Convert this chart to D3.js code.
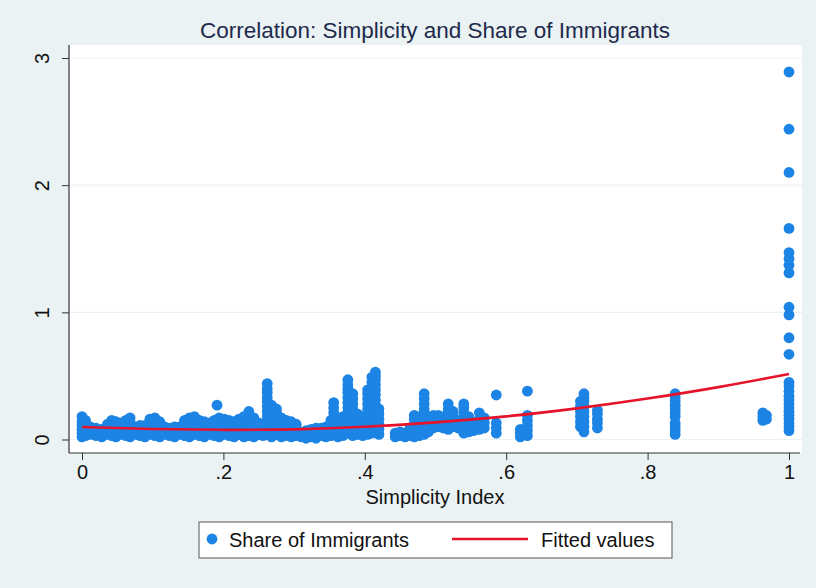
<!DOCTYPE html>
<html lang="en">
  <head>
    <meta charset="utf-8">
    <title>Correlation: Simplicity and Share of Immigrants</title>
    <script src="https://cdn.jsdelivr.net/npm/d3@7/dist/d3.min.js"></script>
    <style>
      body { margin: 0; background: #eaf2f3; }
      text { font-family: "Liberation Sans", Arial, sans-serif; }
    </style>
  </head>
  <body>
    <script>

      // simplicity index positions and the share values found at each one
      var simplicity = [
        0.000, 0.005, 0.012, 0.020, 0.028, 0.036, 0.042, 0.048, 0.055, 0.062,
        0.068, 0.075, 0.082, 0.089, 0.096, 0.103, 0.110, 0.117, 0.124, 0.131,
        0.138, 0.145, 0.152, 0.159, 0.166, 0.173, 0.180, 0.187, 0.191, 0.194,
        0.201, 0.208, 0.215, 0.222, 0.229, 0.236, 0.243, 0.250, 0.256, 0.262,
        0.268, 0.275, 0.282, 0.289, 0.296, 0.303, 0.310, 0.317, 0.324, 0.331,
        0.338, 0.345, 0.352, 0.356, 0.362, 0.369, 0.376, 0.383, 0.390, 0.397,
        0.404, 0.410, 0.415, 0.420,
        0.443, 0.450, 0.457, 0.464, 0.470, 0.477, 0.484, 0.490, 0.497, 0.504,
        0.511, 0.518, 0.525, 0.532, 0.540, 0.547, 0.554, 0.562, 0.569, 0.586,
        0.620, 0.630,
        0.705, 0.710, 0.729, 0.839, 0.963, 0.968, 1.000
      ];

      var immigrantShare = [
        [0.02,0.05,0.08,0.11,0.14,0.18], [0.03,0.06,0.09,0.12,0.15], [0.04,0.07,0.10],
        [0.03,0.06,0.09], [0.02,0.05,0.08], [0.04,0.07,0.10,0.12], [0.03,0.06,0.09,0.12,0.15],
        [0.02,0.05,0.08,0.11,0.14], [0.04,0.07,0.10,0.13], [0.03,0.06,0.09,0.12,0.15],
        [0.02,0.05,0.08,0.11,0.14,0.17], [0.04,0.07,0.10], [0.03,0.06,0.09,0.11],
        [0.02,0.05,0.08,0.11], [0.04,0.07,0.10,0.13,0.16], [0.03,0.06,0.09,0.12,0.15,0.17],
        [0.02,0.05,0.08,0.11,0.14], [0.04,0.07,0.10], [0.03,0.06,0.09], [0.02,0.05,0.08,0.10],
        [0.04,0.07,0.10], [0.03,0.06,0.09,0.12,0.15], [0.02,0.05,0.08,0.11,0.14,0.17],
        [0.04,0.07,0.10,0.13,0.16,0.18], [0.03,0.06,0.09,0.12,0.15], [0.02,0.05,0.08,0.11,0.14],
        [0.04,0.07,0.10,0.13], [0.03,0.06,0.09,0.12,0.15], [0.27], [0.02,0.05,0.08,0.11,0.14,0.17],
        [0.04,0.07,0.10,0.13,0.16], [0.03,0.06,0.09,0.12,0.15], [0.02,0.05,0.08,0.11,0.14],
        [0.04,0.07,0.10,0.13,0.16], [0.02,0.05,0.08,0.11,0.14,0.18], [0.03,0.06,0.09,0.12,0.15,0.19,0.22],
        [0.02,0.05,0.08,0.11,0.14,0.17], [0.04,0.07,0.10,0.13], [0.03,0.06,0.09,0.12],
        [0.06,0.10,0.14,0.18,0.22,0.26,0.30,0.33,0.37,0.40,0.44],
        [0.02,0.05,0.08,0.11,0.15,0.19,0.23,0.27], [0.04,0.07,0.10,0.13,0.17,0.21,0.24],
        [0.02,0.05,0.08,0.11,0.14,0.17], [0.03,0.06,0.09,0.12,0.15], [0.02,0.05,0.08,0.11,0.14],
        [0.03,0.06,0.09,0.12], [0.02,0.05], [0.01,0.04,0.07], [0.02,0.05,0.08], [0.01,0.04,0.07,0.09],
        [0.03,0.06,0.09], [0.02,0.05,0.08,0.10], [0.03,0.06,0.09,0.12,0.15], [0.17,0.21,0.25,0.29],
        [0.02,0.05,0.08,0.11,0.14], [0.03,0.06,0.09,0.12,0.15,0.18],
        [0.05,0.09,0.13,0.17,0.21,0.25,0.29,0.33,0.37,0.40,0.43,0.47],
        [0.03,0.06,0.09,0.12,0.16,0.20,0.24,0.28,0.32,0.36], [0.04,0.07,0.10,0.13,0.16,0.20],
        [0.03,0.06,0.09,0.12,0.15,0.18], [0.04,0.08,0.12,0.16,0.20,0.24,0.28,0.32,0.36,0.39],
        [0.05,0.09,0.13,0.17,0.21,0.25,0.29,0.33,0.37,0.41,0.45,0.49],
        [0.07,0.11,0.15,0.19,0.23,0.27,0.31,0.35,0.39,0.43,0.47,0.50,0.53],
        [0.04,0.08,0.12,0.16,0.20,0.24],
        [0.02,0.05], [0.03,0.06], [0.02,0.05], [0.03,0.06,0.09], [0.02,0.05,0.08,0.12,0.16,0.19],
        [0.03,0.06,0.10,0.14,0.18], [0.04,0.08,0.12,0.16,0.20,0.24,0.28,0.32,0.36],
        [0.06,0.10,0.14,0.18], [0.09,0.12,0.15,0.19], [0.10,0.13,0.16,0.19], [0.09,0.12,0.15,0.18],
        [0.08,0.12,0.16,0.20,0.24,0.28], [0.10,0.14,0.18,0.22], [0.09,0.12,0.15],
        [0.05,0.09,0.13,0.17,0.21,0.25,0.28], [0.06,0.10,0.14,0.18], [0.07,0.10,0.13],
        [0.08,0.12,0.16,0.21], [0.09,0.13,0.17], [0.05,0.09,0.13,0.35],
        [0.02,0.05,0.08], [0.03,0.07,0.11,0.15,0.19,0.38],
        [0.10,0.14,0.18,0.22,0.26,0.30], [0.06,0.10,0.14,0.18,0.22,0.26,0.30,0.33,0.36],
        [0.09,0.13,0.16,0.20,0.23], [0.04,0.07,0.10,0.13,0.18,0.21,0.24,0.27,0.30,0.33,0.36],
        [0.15,0.18,0.21], [0.16,0.19],
        [0.07,0.10,0.13,0.16,0.19,0.22,0.25,0.28,0.31,0.34,0.38,0.42,0.45,0.67,0.80,0.98,1.04,
         1.31,1.37,1.42,1.47,1.66,2.10,2.44,2.89]
      ];

      // fitted values (quadratic fit)
      var fitX = [0, 0.1, 0.2, 0.3, 0.4, 0.5, 0.6, 0.7, 0.8, 0.9, 1];
      var fitY = [0.098, 0.083, 0.076, 0.080, 0.100, 0.135, 0.182, 0.245, 0.322, 0.412, 0.515];

      var xTicks = [0, 0.2, 0.4, 0.6, 0.8, 1];
      var xTickLabels = ["0", ".2", ".4", ".6", ".8", "1"];
      var yTicks = [0, 1, 2, 3];

      var points = [];
      simplicity.forEach(function(sx, i) {
        immigrantShare[i].forEach(function(v) { points.push({x: sx, y: v}); });
      });

      var fitted = fitX.map(function(d, i) { return {x: d, y: fitY[i]}; });

      var width = 816, height = 588;
      var plotLeft = 69, plotRight = 802, plotTop = 45, plotBottom = 453;
      var fontSize = 20;

      var svg = d3.select("body").append("svg")
                  .attr("width", width)
                  .attr("height", height);

      svg.append("rect")
         .attr("width", width).attr("height", height)
         .attr("fill", "#eaf2f3");

      var x = d3.scaleLinear().domain([0, 1]).range([82, 789]);
      var y = d3.scaleLinear().domain([0, 3]).range([439.5, 58]);

      // plot region
      svg.append("rect")
         .attr("x", plotLeft).attr("y", plotTop)
         .attr("width", plotRight - plotLeft).attr("height", plotBottom - plotTop)
         .attr("fill", "#ffffff");

      svg.selectAll("line.grid")
         .data(yTicks)
         .enter().append("line")
         .attr("class", "grid")
         .attr("x1", plotLeft).attr("x2", plotRight)
         .attr("y1", function(d) { return y(d); })
         .attr("y2", function(d) { return y(d); })
         .attr("stroke", "#eaf2f3")
         .attr("stroke-width", 1.2);

      svg.append("text")
         .attr("x", 435).attr("y", 38)
         .attr("text-anchor", "middle")
         .attr("font-size", 22.5)
         .attr("fill", "#1e2a4c")
         .text("Correlation: Simplicity and Share of Immigrants");

      // points
      svg.append("g").selectAll("circle")
         .data(points)
         .enter().append("circle")
         .attr("cx", function(d) { return x(d.x); })
         .attr("cy", function(d) { return y(d.y); })
         .attr("r", 5.4)
         .attr("fill", "#1b84e4");

      var line = d3.line()
                   .x(function(d) { return x(d.x); })
                   .y(function(d) { return y(d.y); })
                   .curve(d3.curveNatural);

      svg.append("path")
         .datum(fitted)
         .attr("d", line)
         .attr("fill", "none")
         .attr("stroke", "#e6132b")
         .attr("stroke-width", 2.6);

      // axes
      var xAxis = svg.append("g")
         .attr("transform", "translate(0," + plotBottom + ")")
         .call(d3.axisBottom(x).tickValues(xTicks)
                 .tickFormat(function(d, i) { return xTickLabels[i]; })
                 .tickSize(7).tickPadding(5));
      xAxis.select(".domain").remove();

      var yAxis = svg.append("g")
         .attr("transform", "translate(" + plotLeft + ",0)")
         .call(d3.axisLeft(y).tickValues(yTicks).tickFormat(d3.format("d")).tickSize(7));
      yAxis.select(".domain").remove();
      yAxis.selectAll("text")
         .attr("transform", "rotate(-90)")
         .attr("x", 0).attr("y", -20).attr("dy", 0)
         .attr("text-anchor", "middle");

      svg.selectAll(".tick text")
         .attr("font-family", "Liberation Sans, Arial, sans-serif")
         .attr("font-size", fontSize)
         .attr("fill", "#111");
      svg.selectAll(".tick line").attr("stroke", "#333");

      svg.append("line")
         .attr("x1", plotLeft).attr("x2", plotLeft)
         .attr("y1", plotTop).attr("y2", plotBottom)
         .attr("stroke", "#333").attr("stroke-width", 1.2);
      svg.append("line")
         .attr("x1", plotLeft).attr("x2", plotRight - 2)
         .attr("y1", plotBottom).attr("y2", plotBottom)
         .attr("stroke", "#333").attr("stroke-width", 1.2);

      svg.append("text")
         .attr("x", 435).attr("y", 504)
         .attr("text-anchor", "middle")
         .attr("font-size", fontSize)
         .attr("fill", "#111")
         .text("Simplicity Index");

      // legend
      var legend = svg.append("g");
      legend.append("rect")
         .attr("x", 199).attr("y", 522)
         .attr("width", 473).attr("height", 36)
         .attr("fill", "#ffffff")
         .attr("stroke", "#555").attr("stroke-width", 1);
      legend.append("circle")
         .attr("cx", 212).attr("cy", 539).attr("r", 5.4)
         .attr("fill", "#1b84e4");
      legend.append("text")
         .attr("x", 229).attr("y", 547)
         .attr("font-size", fontSize).attr("fill", "#111")
         .text("Share of Immigrants");
      legend.append("line")
         .attr("x1", 452).attr("x2", 528)
         .attr("y1", 539).attr("y2", 539)
         .attr("stroke", "#e6132b").attr("stroke-width", 2.6);
      legend.append("text")
         .attr("x", 541).attr("y", 547)
         .attr("font-size", fontSize).attr("fill", "#111")
         .text("Fitted values");

    </script>
  </body>
</html>
